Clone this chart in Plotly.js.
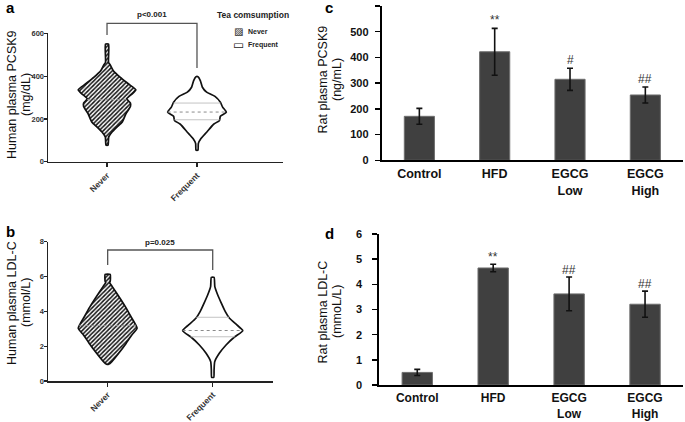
<!DOCTYPE html>
<html><head><meta charset="utf-8">
<script src="https://cdn.plot.ly/plotly-3.0.1.min.js"></script>
<style>html,body{margin:0;padding:0;background:#fff}#chart{width:685px;height:422px}</style>
</head><body><div id="chart"></div>
<script>
// ---------------- data ----------------
const teaGroups = ['Never', 'Frequent'];
const legendTitle = 'Tea comsumption';

// Panel a: human plasma PCSK9 (mg/dL) violin outlines: value and half-width (group units)
const pcsk9NeverY  = [77, 116, 139, 162, 186, 224, 258, 274, 294, 317, 336, 363, 394, 425, 451, 464, 549];
const pcsk9NeverHW = [0.011, 0.019, 0.056, 0.11, 0.17, 0.21, 0.26, 0.26, 0.22, 0.28, 0.32, 0.24, 0.148, 0.07, 0.037, 0.017, 0.017];
const pcsk9NeverMedian = [290];
const pcsk9NeverMedianHW = [0.22];
const pcsk9FreqY  = [54, 85, 108, 139, 175, 193, 212, 232, 255, 278, 305, 325, 348, 379, 397];
const pcsk9FreqHW = [0.011, 0.015, 0.044, 0.11, 0.185, 0.25, 0.26, 0.326, 0.285, 0.26, 0.2, 0.107, 0.06, 0.037, 0.011];
const pcsk9FreqQuart   = [196, 274];
const pcsk9FreqQuartHW = [0.25, 0.26];
const pcsk9FreqMedian   = [232];
const pcsk9FreqMedianHW = [0.326];
const pcsk9PText = 'p<0.001';

// Panel b: human plasma LDL-C (mmol/L)
const ldlNeverY  = [0.96, 1.11, 1.59, 2.16, 2.64, 3.03, 3.69, 4.27, 4.84, 5.42, 5.65, 5.72, 6.12];
const ldlNeverHW = [0.01, 0.04, 0.105, 0.175, 0.23, 0.28, 0.222, 0.168, 0.108, 0.044, 0.019, 0.024, 0.024];
const ldlNeverMedian = [3.2];
const ldlNeverMedianHW = [0.27];
const ldlFreqY  = [0.21, 0.63, 1.11, 1.59, 2.07, 2.54, 2.89, 3.22, 3.6, 3.98, 4.46, 4.94, 5.42, 5.95];
const ldlFreqHW = [0.01, 0.013, 0.019, 0.063, 0.127, 0.21, 0.286, 0.23, 0.16, 0.12, 0.083, 0.048, 0.02, 0.013];
const ldlFreqQuart   = [2.54, 3.66];
const ldlFreqQuartHW = [0.21, 0.155];
const ldlFreqMedian   = [2.9];
const ldlFreqMedianHW = [0.286];
const ldlPText = 'p=0.025';

// Panels c, d: rat data
const ratGroups      = ['Control', 'HFD', 'EGCG Low', 'EGCG High'];
const ratGroupLabels = ['Control', 'HFD', 'EGCG<br>Low', 'EGCG<br>High'];
const ratPcsk9Mean = [171, 422, 315, 254];
const ratPcsk9Err  = [31, 91, 43, 31];
const ratPcsk9Sig  = ['', '**', '#', '##'];
const ratLdlMean = [0.50, 4.65, 3.62, 3.21];
const ratLdlErr  = [0.12, 0.15, 0.67, 0.52];
const ratLdlSig  = ['', '**', '##', '##'];

// ---------------- layout helpers ----------------
const W = 685, H = 422;
const FONT = 'Liberation Sans, Arial, sans-serif';
const px = x => x / W;
const py = y => 1 - y / H;
const box = {
  a: {x0: 48, x1: 283, y0: 33.3, y1: 161.7, xr: [-0.656, 1.956], yr: [0, 600]},
  b: {x0: 48, x1: 273, y0: 241.7, y1: 381, xr: [-0.568, 1.574], yr: [0, 8]},
  c: {x0: 381.7, x1: 683, y0: 6, y1: 160.3, xr: [-0.5, 3.5], yr: [0, 600]},
  d: {x0: 379.3, x1: 683, y0: 234, y1: 385, xr: [-0.5, 3.5], yr: [0, 6]}
};
const xPix = (b, v) => b.x0 + (v - b.xr[0]) / (b.xr[1] - b.xr[0]) * (b.x1 - b.x0);

function violin(center, ys, hws) {
  const xs = ys.map((y, i) => center + hws[i]);
  const xl = ys.map((y, i) => center - hws[i]).reverse();
  const yl = ys.slice().reverse();
  return {x: xs.concat(xl, [xs[0]]), y: ys.concat(yl, [ys[0]])};
}
function hlines(center, vals, hws) {
  const x = [], y = [];
  vals.forEach((v, i) => { x.push(center - hws[i], center + hws[i], null); y.push(v, v, null); });
  return {x, y};
}

const hatch = {shape: '/', fgcolor: '#111111', bgcolor: '#ffffff', size: 3, solidity: 0.5};
const outline = {color: '#111', width: 1.7, shape: 'spline', smoothing: 0.5};
const traces = [];

function addViolins(xa, ya, nY, nHW, nMed, nMedHW, fY, fHW, fQ, fQHW, fMed, fMedHW) {
  const vn = violin(0, nY, nHW);
  traces.push({type: 'scatter', mode: 'lines', x: vn.x, y: vn.y, xaxis: xa, yaxis: ya,
    fill: 'toself', fillcolor: '#ffffff', fillpattern: hatch, line: outline,
    name: teaGroups[0], showlegend: false, hoverinfo: 'skip'});
  const mn = hlines(0, nMed, nMedHW);
  traces.push({type: 'scatter', mode: 'lines', x: mn.x, y: mn.y, xaxis: xa, yaxis: ya,
    line: {color: '#9a9a9a', width: 1, dash: 'dot'}, showlegend: false, hoverinfo: 'skip'});
  const vf = violin(1, fY, fHW);
  traces.push({type: 'scatter', mode: 'lines', x: vf.x, y: vf.y, xaxis: xa, yaxis: ya,
    fill: 'toself', fillcolor: '#ffffff', line: outline,
    name: teaGroups[1], showlegend: false, hoverinfo: 'skip'});
  const q = hlines(1, fQ, fQHW);
  traces.push({type: 'scatter', mode: 'lines', x: q.x, y: q.y, xaxis: xa, yaxis: ya,
    line: {color: '#c4c4c4', width: 1}, showlegend: false, hoverinfo: 'skip'});
  const m = hlines(1, fMed, fMedHW);
  traces.push({type: 'scatter', mode: 'lines', x: m.x, y: m.y, xaxis: xa, yaxis: ya,
    line: {color: '#8a8a8a', width: 1, dash: 'dot'}, showlegend: false, hoverinfo: 'skip'});
}
addViolins('x', 'y', pcsk9NeverY, pcsk9NeverHW, pcsk9NeverMedian, pcsk9NeverMedianHW,
  pcsk9FreqY, pcsk9FreqHW, pcsk9FreqQuart, pcsk9FreqQuartHW, pcsk9FreqMedian, pcsk9FreqMedianHW);
addViolins('x2', 'y2', ldlNeverY, ldlNeverHW, ldlNeverMedian, ldlNeverMedianHW,
  ldlFreqY, ldlFreqHW, ldlFreqQuart, ldlFreqQuartHW, ldlFreqMedian, ldlFreqMedianHW);

const barStyle = {color: '#404040', line: {color: '#6e6e6e', width: 1}};
const errStyle = {type: 'data', color: '#111', thickness: 1.6, width: 3};
traces.push({type: 'bar', x: ratGroups, y: ratPcsk9Mean, xaxis: 'x3', yaxis: 'y3', width: 0.4,
  marker: barStyle, error_y: Object.assign({array: ratPcsk9Err}, errStyle), showlegend: false, hoverinfo: 'skip'});
traces.push({type: 'bar', x: ratGroups, y: ratLdlMean, xaxis: 'x4', yaxis: 'y4', width: 0.4,
  marker: barStyle, error_y: Object.assign({array: ratLdlErr}, errStyle), showlegend: false, hoverinfo: 'skip'});

// ---------------- axes ----------------
function humanX(b, yname) {
  return {domain: [px(b.x0), px(b.x1)], anchor: yname, range: b.xr, tickvals: [0, 1], ticktext: teaGroups,
    tickangle: -45, ticks: 'outside', ticklen: 4, tickwidth: 1.2, tickcolor: '#222',
    showline: true, linecolor: '#222', linewidth: 1.5, showgrid: false, zeroline: false,
    tickfont: {family: FONT, size: 8.5, color: '#333', weight: 'bold'}, fixedrange: true};
}
function humanY(b, xname, vals) {
  return {domain: [py(b.y1), py(b.y0)], anchor: xname, range: b.yr, tickvals: vals,
    ticks: 'outside', ticklen: 3, tickwidth: 1.2, tickcolor: '#222', ticklabelstandoff: -2,
    showline: true, linecolor: '#222', linewidth: 1.5, showgrid: false, zeroline: false,
    tickfont: {family: FONT, size: 7.5, color: '#333', weight: 'bold'}, fixedrange: true};
}
function ratX(b, yname, standoff, size) {
  return {domain: [px(b.x0), px(b.x1)], anchor: yname, type: 'category', range: b.xr,
    tickvals: ratGroups, ticktext: ratGroupLabels, ticks: '', ticklabelstandoff: standoff,
    showline: true, linecolor: '#000', linewidth: 2, showgrid: false, zeroline: false,
    tickfont: {family: FONT, size: size, color: '#111', weight: 'bold'}, fixedrange: true};
}
function ratY(b, xname, dtick, standoff) {
  return {domain: [py(b.y1), py(b.y0)], anchor: xname, range: b.yr, dtick: dtick,
    ticks: 'outside', ticklen: 5, tickwidth: 1.5, tickcolor: '#000', ticklabelstandoff: standoff,
    showline: true, linecolor: '#000', linewidth: 2, showgrid: false, zeroline: false,
    tickfont: {family: FONT, size: 11, color: '#111', weight: 'bold'}, fixedrange: true};
}

// ---------------- annotations & shapes ----------------
const annotations = [];
const shapes = [];
function txt(x, y, text, font, opts) {
  annotations.push(Object.assign({xref: 'paper', yref: 'paper', x: px(x), y: py(y), text: text,
    xanchor: 'center', yanchor: 'middle', showarrow: false, font: font}, opts || {}));
}
const letterFont = {family: FONT, size: 15, color: '#000', weight: 'bold'};
txt(10, 8, 'a', letterFont);
txt(10, 231, 'b', letterFont);
txt(329, 8, 'c', letterFont);
txt(329, 233, 'd', letterFont);
const titleFont = {family: FONT, size: 12.5, color: '#111'};
// two-line rotated axis titles (line 1 left, line 2 right)
function ytitle(xl1, xl2, yc, l1, l2) {
  txt(xl1, yc, l1, titleFont, {textangle: -90});
  txt(xl2, yc, l2, titleFont, {textangle: -90});
}
ytitle(12, 26, 95, 'Human plasma PCSK9', '(mg/dL)');
ytitle(12, 26, 303, 'Human plasma LDL-C', '(mmol/L)');
ytitle(322.5, 337, 80, 'Rat plasma PCSK9', '(ng/mL)');
ytitle(322.5, 337, 312, 'Rat plasma LDL-C', '(mmoL/L)');

// legend for panel a (tea consumption)
const legFont = {family: FONT, size: 7, color: '#222', weight: 'bold'};
txt(215, 15, '<b>' + legendTitle + '</b>', {family: FONT, size: 8.5, color: '#222', weight: 'bold'}, {xanchor: 'left'});
const legSymbols = ['\u25A8', '\u25AD'];
teaGroups.forEach((g, i) => {
  const yy = 31.5 + i * 14;
  txt(239, yy, legSymbols[i], {family: 'DejaVu Sans', size: i === 0 ? 10 : 12, color: '#222'});
  txt(246, yy, g, legFont, {xanchor: 'left'});
});

// significance brackets for human panels
function bracket(b, yTop, yL, yR, label, labelY) {
  const xl = xPix(b, 0), xr = xPix(b, 1);
  shapes.push({type: 'path', xref: 'paper', yref: 'paper',
    path: `M ${px(xl)} ${py(yL)} L ${px(xl)} ${py(yTop)} L ${px(xr)} ${py(yTop)} L ${px(xr)} ${py(yR)}`,
    line: {color: '#555', width: 1.3}});
  txt((xl + xr) / 2, labelY, label, {family: FONT, size: 8, color: '#222', weight: 'bold'});
}
bracket(box.a, 23.3, 35, 68, pcsk9PText, 15);
bracket(box.b, 250, 265, 270, ldlPText, 242);

// significance marks on rat bars
ratGroups.forEach((g, i) => {
  if (ratPcsk9Sig[i]) annotations.push({xref: 'x3', yref: 'y3', x: g, y: ratPcsk9Mean[i] + ratPcsk9Err[i],
    text: ratPcsk9Sig[i], showarrow: false, xanchor: 'center', yanchor: 'bottom', yshift: -1,
    font: {family: FONT, size: 12, color: '#333'}});
  if (ratLdlSig[i]) annotations.push({xref: 'x4', yref: 'y4', x: g, y: ratLdlMean[i] + ratLdlErr[i],
    text: ratLdlSig[i], showarrow: false, xanchor: 'center', yanchor: 'bottom', yshift: -2,
    font: {family: FONT, size: 12, color: '#333'}});
});

const layout = {
  width: W, height: H, margin: {l: 0, r: 0, t: 0, b: 0},
  paper_bgcolor: '#fff', plot_bgcolor: '#fff',
  font: {family: FONT, color: '#111'},
  showlegend: false,
  xaxis: humanX(box.a, 'y'),  yaxis: humanY(box.a, 'x', [0, 200, 400, 600]),
  xaxis2: humanX(box.b, 'y2'), yaxis2: humanY(box.b, 'x2', [0, 2, 4, 6, 8]),
  xaxis3: ratX(box.c, 'y3', 1, 12.5), yaxis3: ratY(box.c, 'x3', 100, 4),
  xaxis4: ratX(box.d, 'y4', 1, 12), yaxis4: ratY(box.d, 'x4', 1, 8),
  annotations: annotations, shapes: shapes
};

Plotly.newPlot('chart', traces, layout, {staticPlot: true, displayModeBar: false});
</script>
</body></html>
